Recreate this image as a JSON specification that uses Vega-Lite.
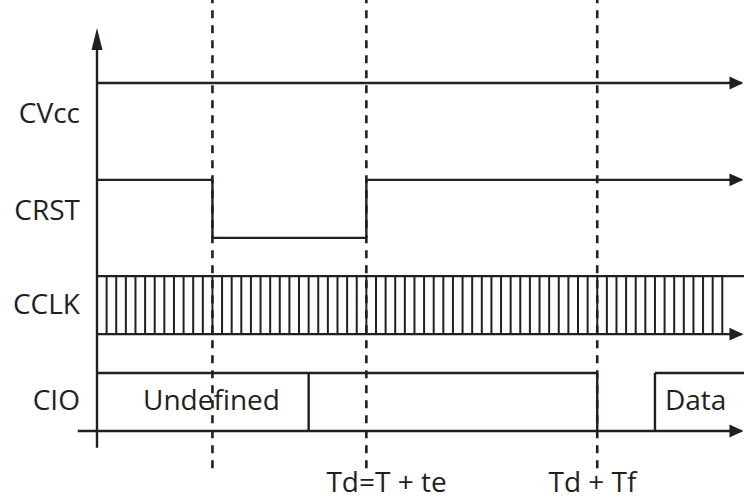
{
  "$schema": "https://vega.github.io/schema/vega-lite/v6.json",
  "width": 744,
  "height": 502,
  "padding": 0,
  "autosize": {"type": "none"},
  "background": "white",
  "config": {"view": {"stroke": null}},
  "datasets": {
    "segs": [
      {"x": 0, "x2": 0, "y": -0.29, "y2": 6.7},
      {"x": -2, "x2": 67, "y": 0, "y2": 0},
      {"x": 0, "x2": 67, "y": 6, "y2": 6},
      {"x": 0, "x2": 12, "y": 4.33, "y2": 4.33},
      {"x": 12, "x2": 12, "y": 4.33, "y2": 3.33},
      {"x": 12, "x2": 28, "y": 3.33, "y2": 3.33},
      {"x": 28, "x2": 28, "y": 3.33, "y2": 4.33},
      {"x": 28, "x2": 67, "y": 4.33, "y2": 4.33},
      {"x": 0, "x2": 67.26, "y": 2.67, "y2": 2.67},
      {"x": 0, "x2": 67, "y": 1.67, "y2": 1.67},
      {"x": 0, "x2": 52, "y": 1, "y2": 1},
      {"x": 52, "x2": 52, "y": 1, "y2": 0},
      {"x": 22, "x2": 22, "y": 0, "y2": 1},
      {"x": 58, "x2": 58, "y": 0, "y2": 1},
      {"x": 58, "x2": 67.26, "y": 1, "y2": 1}
    ],
    "ticks": [
      {"t": 1}, {"t": 2}, {"t": 3}, {"t": 4}, {"t": 5}, {"t": 6}, {"t": 7}, {"t": 8}, {"t": 9}, {"t": 10},
      {"t": 11}, {"t": 12}, {"t": 13}, {"t": 14}, {"t": 15}, {"t": 16}, {"t": 17}, {"t": 18}, {"t": 19}, {"t": 20},
      {"t": 21}, {"t": 22}, {"t": 23}, {"t": 24}, {"t": 25}, {"t": 26}, {"t": 27}, {"t": 28}, {"t": 29}, {"t": 30},
      {"t": 31}, {"t": 32}, {"t": 33}, {"t": 34}, {"t": 35}, {"t": 36}, {"t": 37}, {"t": 38}, {"t": 39}, {"t": 40},
      {"t": 41}, {"t": 42}, {"t": 43}, {"t": 44}, {"t": 45}, {"t": 46}, {"t": 47}, {"t": 48}, {"t": 49}, {"t": 50},
      {"t": 51}, {"t": 52}, {"t": 53}, {"t": 54}, {"t": 55}, {"t": 56}, {"t": 57}, {"t": 58}, {"t": 59}, {"t": 60},
      {"t": 61}, {"t": 62}, {"t": 63}, {"t": 64}, {"t": 65}
    ],
    "dashes": [
      {"t": 12}, {"t": 28}, {"t": 52}
    ],
    "arrowsRight": [
      {"t": 67.2, "v": 6},
      {"t": 67.2, "v": 4.33},
      {"t": 67.2, "v": 1.67},
      {"t": 67.2, "v": 0}
    ],
    "arrowsUp": [
      {"t": 0, "v": 6.95}
    ],
    "labelsRight": [
      {"t": -1.77, "v": 5.305, "text": "CVcc"},
      {"t": -1.77, "v": 3.64, "text": "CRST"},
      {"t": -1.77, "v": 2.01, "text": "CCLK"},
      {"t": -1.77, "v": 0.357, "text": "CIO"}
    ],
    "labelsCenter": [
      {"t": 11.9, "v": 0.357, "text": "Undefined"},
      {"t": 30.1, "v": -1.06, "text": "Td=T + te"},
      {"t": 51.5, "v": -1.06, "text": "Td + Tf"}
    ],
    "labelsLeft": [
      {"t": 59.04, "v": 0.357, "text": "Data"}
    ]
  },
  "layer": [
    {
      "data": {"name": "dashes"},
      "mark": {"type": "rule", "color": "#231f20", "strokeWidth": 2.6, "strokeDash": [8, 7]},
      "encoding": {
        "x": {"field": "t", "type": "quantitative", "scale": {"domain": [-10.083, 67.256], "nice": false, "zero": false}, "axis": null},
        "y": {"datum": -0.64, "type": "quantitative", "scale": {"domain": [-1.224, 7.431], "nice": false, "zero": false}, "axis": null},
        "y2": {"datum": 7.5}
      }
    },
    {
      "data": {"name": "ticks"},
      "mark": {"type": "rule", "color": "#231f20", "strokeWidth": 2},
      "encoding": {
        "x": {"field": "t", "type": "quantitative"},
        "y": {"datum": 1.67, "type": "quantitative"},
        "y2": {"datum": 2.67}
      }
    },
    {
      "data": {"name": "segs"},
      "mark": {"type": "rule", "color": "#231f20", "strokeWidth": 2.4},
      "encoding": {
        "x": {"field": "x", "type": "quantitative"},
        "x2": {"field": "x2"},
        "y": {"field": "y", "type": "quantitative"},
        "y2": {"field": "y2"}
      }
    },
    {
      "data": {"name": "arrowsRight"},
      "mark": {"type": "point", "filled": true, "color": "#231f20", "opacity": 1, "strokeWidth": 0, "size": 784, "shape": "M0,0L-1,-0.46L-1,0.46Z"},
      "encoding": {
        "x": {"field": "t", "type": "quantitative"},
        "y": {"field": "v", "type": "quantitative"}
      }
    },
    {
      "data": {"name": "arrowsUp"},
      "mark": {"type": "point", "filled": true, "color": "#231f20", "opacity": 1, "strokeWidth": 0, "size": 1936, "shape": "M0,0L0.25,1L-0.25,1Z"},
      "encoding": {
        "x": {"field": "t", "type": "quantitative"},
        "y": {"field": "v", "type": "quantitative"}
      }
    },
    {
      "data": {"name": "labelsRight"},
      "mark": {"type": "text", "align": "right", "baseline": "alphabetic", "font": "Open Sans", "fontSize": 28, "color": "#231f20"},
      "encoding": {
        "x": {"field": "t", "type": "quantitative"},
        "y": {"field": "v", "type": "quantitative"},
        "text": {"field": "text"}
      }
    },
    {
      "data": {"name": "labelsCenter"},
      "mark": {"type": "text", "align": "center", "baseline": "alphabetic", "font": "Open Sans", "fontSize": 28, "color": "#231f20"},
      "encoding": {
        "x": {"field": "t", "type": "quantitative"},
        "y": {"field": "v", "type": "quantitative"},
        "text": {"field": "text"}
      }
    },
    {
      "data": {"name": "labelsLeft"},
      "mark": {"type": "text", "align": "left", "baseline": "alphabetic", "font": "Open Sans", "fontSize": 28, "color": "#231f20"},
      "encoding": {
        "x": {"field": "t", "type": "quantitative"},
        "y": {"field": "v", "type": "quantitative"},
        "text": {"field": "text"}
      }
    }
  ]
}
